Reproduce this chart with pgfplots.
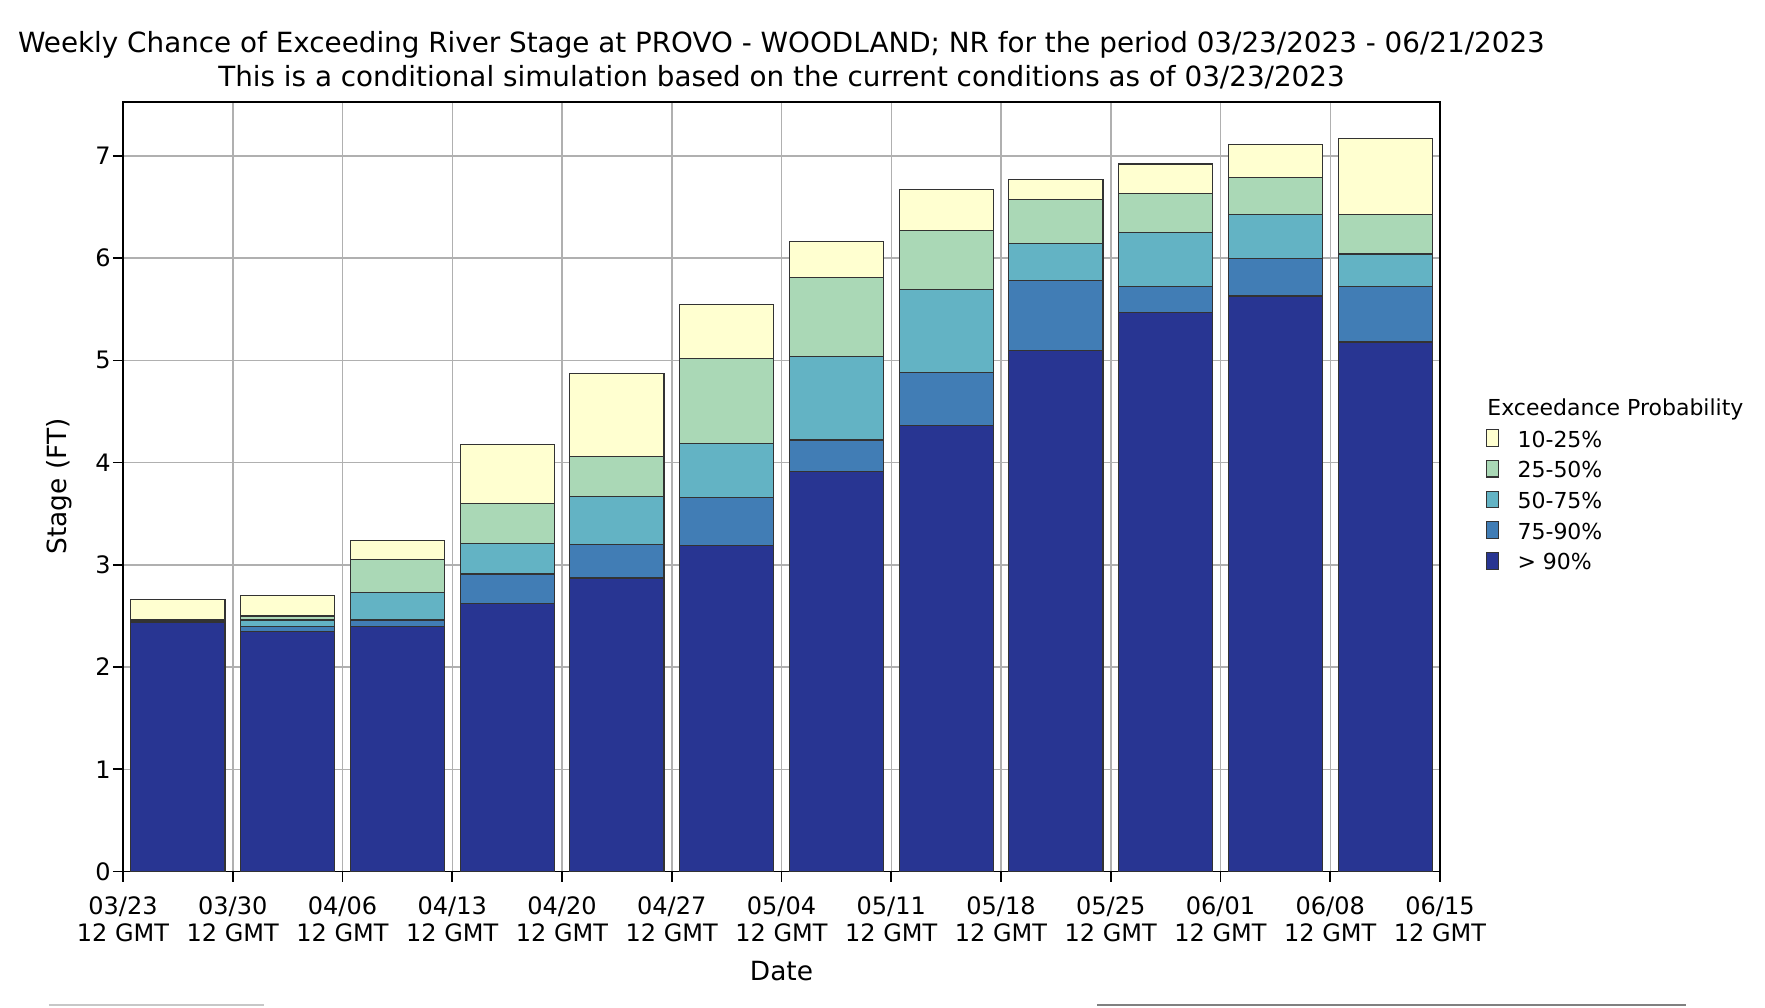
\documentclass[border=0pt]{standalone}
\usepackage{pgfplots}
\pgfplotsset{compat=1.18}
\usepackage{fontspec}
\setmainfont{DejaVu Sans}
\definecolor{cA}{HTML}{FFFFD0}
\definecolor{cB}{HTML}{AAD8B6}
\definecolor{cC}{HTML}{63B3C4}
\definecolor{cD}{HTML}{417DB5}
\definecolor{cE}{HTML}{283592}
\begin{document}
\begin{tikzpicture}
\begin{axis}[
  name=ax, at={(0,0)}, anchor=south west,
  scale only axis, width=658.5pt, height=384.9pt,
  xmin=0, xmax=12, ymin=0, ymax=7.53,
  ybar, bar width=0.857,
  xtick={0,...,12},
  xticklabels={{03/23\\12 GMT},{03/30\\12 GMT},{04/06\\12 GMT},{04/13\\12 GMT},{04/20\\12 GMT},{04/27\\12 GMT},{05/04\\12 GMT},{05/11\\12 GMT},{05/18\\12 GMT},{05/25\\12 GMT},{06/01\\12 GMT},{06/08\\12 GMT},{06/15\\12 GMT}},
  ytick={0,...,7},
  /pgf/number format/assume math mode=true,
  tick align=outside, tick pos=left,
  major tick length=5pt,
  every tick/.style={black, line width=0.8pt},
  axis line style={black, line width=0.9pt},
  grid=major,
  major grid style={color=black!31, line width=0.75pt},
  xticklabel style={font=\fontsize{12}{13.8}\selectfont, align=center, inner sep=0pt, yshift=-7.3pt},
  yticklabel style={font=\fontsize{12}{14}\selectfont, inner sep=0pt, xshift=-1pt},
  legend style={at={(1.0349,0.5748)}, anchor=north west, draw=none, fill=none,
    inner sep=0pt, outer sep=0pt, row sep=3.85pt, column sep=0pt,
    font=\fontsize{11}{13}\selectfont,
    nodes={inner sep=0pt, text height=9pt, text depth=2.5pt, anchor=west}},
  legend cell align=left,
  legend image code/.code={
    \draw[#1, line width=0.6pt] (0pt,-2.9pt) rectangle (6pt,5.4pt);
    \path[draw=none, fill=none] (0pt,0pt) -- (15.5pt,0pt);
  },
  every axis plot/.append style={draw=black!80, line width=0.6pt},
]
\addplot[fill=cA, bar shift=0pt] coordinates {(0.5,2.66) (1.5,2.70) (2.5,3.24) (3.5,4.18) (4.5,4.87) (5.5,5.55) (6.5,6.16) (7.5,6.67) (8.5,6.77) (9.5,6.92) (10.5,7.11) (11.5,7.17)};
\addlegendentry{10-25\%}
\addplot[fill=cB, bar shift=0pt] coordinates {(0.5,2.46) (1.5,2.50) (2.5,3.05) (3.5,3.60) (4.5,4.06) (5.5,5.02) (6.5,5.81) (7.5,6.27) (8.5,6.57) (9.5,6.63) (10.5,6.79) (11.5,6.43)};
\addlegendentry{25-50\%}
\addplot[fill=cC, bar shift=0pt] coordinates {(0.5,2.455) (1.5,2.46) (2.5,2.73) (3.5,3.21) (4.5,3.67) (5.5,4.19) (6.5,5.04) (7.5,5.69) (8.5,6.14) (9.5,6.25) (10.5,6.43) (11.5,6.04)};
\addlegendentry{50-75\%}
\addplot[fill=cD, bar shift=0pt] coordinates {(0.5,2.45) (1.5,2.40) (2.5,2.46) (3.5,2.91) (4.5,3.20) (5.5,3.66) (6.5,4.22) (7.5,4.88) (8.5,5.78) (9.5,5.72) (10.5,6.00) (11.5,5.72)};
\addlegendentry{75-90\%}
\addplot[fill=cE, bar shift=0pt] coordinates {(0.5,2.44) (1.5,2.35) (2.5,2.40) (3.5,2.62) (4.5,2.87) (5.5,3.19) (6.5,3.91) (7.5,4.36) (8.5,5.10) (9.5,5.47) (10.5,5.63) (11.5,5.18)};
\addlegendentry{> 90\%}
\end{axis}
\node[anchor=base west, font=\fontsize{11}{13}\selectfont, inner sep=0pt] at (682.0pt,228.2pt) {Exceedance Probability};
\node[anchor=base, font=\fontsize{13.9}{17}\selectfont, inner sep=0pt] at ([yshift=24.35pt]ax.north) {Weekly Chance of Exceeding River Stage at PROVO - WOODLAND; NR for the period 03/23/2023 - 06/21/2023};
\node[anchor=base, font=\fontsize{13.9}{17}\selectfont, inner sep=0pt] at ([yshift=7.35pt]ax.north) {This is a conditional simulation based on the current conditions as of 03/23/2023};
\node[anchor=base, font=\fontsize{13.2}{15}\selectfont, inner sep=0pt] at ([yshift=-54.25pt]ax.south) {Date};
\node[anchor=base, rotate=90, font=\fontsize{13.2}{15}\selectfont, inner sep=0pt] at ([xshift=-28pt]ax.west) {Stage (FT)};
\draw[black!22, line width=1pt] (-37pt,-66.75pt) -- (70.5pt,-66.75pt);
\draw[black!50, line width=1pt] (487pt,-66.75pt) -- (781.5pt,-66.75pt);
\pgfresetboundingbox
\path (-61.5pt,-67.75pt) rectangle (821pt,435.75pt);
\end{tikzpicture}
\end{document}
